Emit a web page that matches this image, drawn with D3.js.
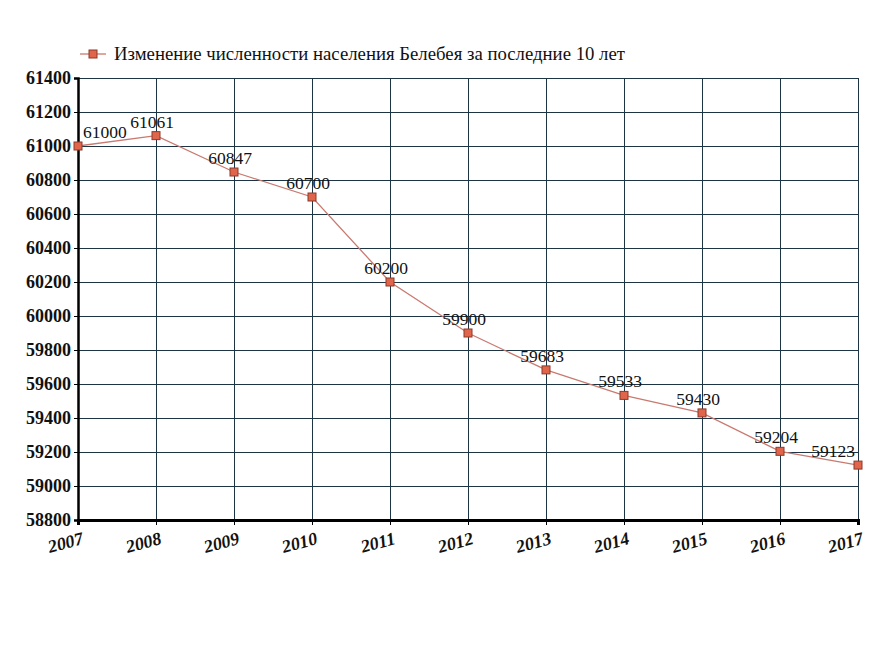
<!DOCTYPE html>
<html><head><meta charset="utf-8">
<script src="https://cdn.jsdelivr.net/npm/d3@7"></script>
<style>
body{margin:0;background:#fff}
svg{display:block}
svg text{font-family:"Times New Roman" !important}
</style>
</head><body>
<svg id="c" width="884" height="650"></svg>
<script>
const years = [2007, 2008, 2009, 2010, 2011, 2012, 2013, 2014, 2015, 2016, 2017];
const population = [61000, 61061, 60847, 60700, 60200, 59900, 59683, 59533, 59430, 59204, 59123];
const yTicks = [58800, 59000, 59200, 59400, 59600, 59800, 60000, 60200, 60400, 60600, 60800, 61000, 61200, 61400];
const seriesName = "Изменение численности населения Белебея за последние 10 лет";

const svg = d3.select("#c");
const L = 78, R = 858, T = 78, B = 520;
const x = d3.scaleLinear().domain([2007, 2017]).range([L, R]);
const y = d3.scaleLinear().domain([58800, 61400]).range([B, T]);
const font = "Times New Roman";
const gridColor = "#1d3444";
const lineColor = "#c97a70";
const markFill = "#e0654a";
const markStroke = "#8a3a2a";

// grid
svg.append("g").selectAll("line").data(yTicks).join("line")
  .attr("x1", L).attr("x2", R).attr("y1", d => y(d)).attr("y2", d => y(d))
  .attr("stroke", gridColor).attr("stroke-width", 1).attr("shape-rendering", "crispEdges");
svg.append("g").selectAll("line").data(years).join("line")
  .attr("x1", d => x(d)).attr("x2", d => x(d)).attr("y1", T).attr("y2", B)
  .attr("stroke", gridColor).attr("stroke-width", 1).attr("shape-rendering", "crispEdges");

// axes
const yAxis = svg.append("g").attr("transform", `translate(${L},0)`)
  .call(d3.axisLeft(y).tickValues(yTicks).tickSize(4).tickPadding(3).tickFormat(d3.format("d")));
yAxis.attr("font-family", font).attr("font-size", 18).attr("font-weight", "bold");
yAxis.select(".domain").attr("stroke", "#000").attr("stroke-width", 2.5);
yAxis.selectAll(".tick line").attr("stroke", "#000");
yAxis.selectAll("text").attr("fill", "#111");

const xAxis = svg.append("g").attr("transform", `translate(0,${B})`)
  .call(d3.axisBottom(x).tickValues(years).tickSize(5).tickFormat(d3.format("d")));
xAxis.attr("font-family", font).attr("font-size", 18).attr("font-weight", "bold").attr("font-style", "italic");
xAxis.select(".domain").attr("stroke", "#000").attr("stroke-width", 3);
xAxis.selectAll(".tick line").attr("stroke", "#000");
xAxis.selectAll("text")
  .attr("fill", "#111").attr("text-anchor", "end")
  .attr("transform", "translate(2,9) rotate(-15)").attr("dy", "0.85em").attr("x", 0).attr("y", 0);

// line
svg.append("path").datum(years.map((yr, i) => [yr, population[i]]))
  .attr("fill", "none").attr("stroke", lineColor).attr("stroke-width", 1.3)
  .attr("d", d3.line().x(d => x(d[0])).y(d => y(d[1])));

// markers
svg.append("g").selectAll("rect").data(years).join("rect")
  .attr("x", d => x(d) - 4).attr("y", (d, i) => y(population[i]) - 4)
  .attr("width", 8).attr("height", 8)
  .attr("fill", markFill).attr("stroke", markStroke).attr("stroke-width", 1);

// labels
const lbl = svg.append("g").attr("font-family", font).attr("font-size", 17.5)
  .selectAll("text").data(years).join("text")
  .attr("fill", "#111")
  .attr("text-anchor", "middle")
  .text((d, i) => population[i])
  .attr("y", (d, i) => y(population[i]) - 8);
lbl.each(function(d) {
  const w = this.getComputedTextLength();
  const cx = Math.max(L + 5 + w / 2, Math.min(R - 3 - w / 2, x(d) - 4));
  d3.select(this).attr("x", cx);
});

// legend
const lg = svg.append("g");
lg.append("line").attr("x1", 80).attr("x2", 106).attr("y1", 54).attr("y2", 54)
  .attr("stroke", lineColor).attr("stroke-width", 1.3);
lg.append("rect").attr("x", 89).attr("y", 50).attr("width", 8).attr("height", 8)
  .attr("fill", markFill).attr("stroke", markStroke);
lg.append("text").attr("x", 114).attr("y", 60).attr("font-family", font).attr("font-size", 19.5)
  .attr("textLength", 511).attr("lengthAdjust", "spacingAndGlyphs")
  .attr("fill", "#111").text(seriesName);
</script>
</body></html>
